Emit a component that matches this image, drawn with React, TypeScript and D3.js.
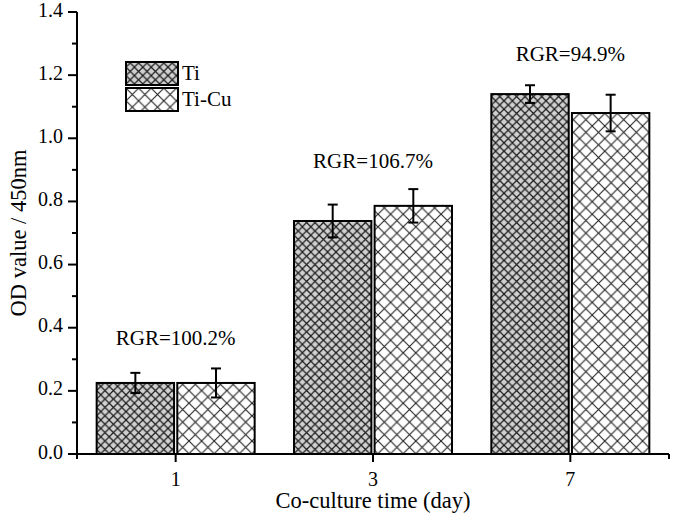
import React from "react";
import * as d3 from "d3";

const categories = ["1", "3", "7"];
const series = ["Ti", "Ti-Cu"];
const tiValues = [0.225, 0.738, 1.14];
const tiErrors = [0.032, 0.052, 0.028];
const tiCuValues = [0.225, 0.786, 1.08];
const tiCuErrors = [0.046, 0.053, 0.058];
const rgrLabels = ["RGR=100.2%", "RGR=106.7%", "RGR=94.9%"];
const rgrValues = [0.36, 0.92, 1.26];
const yTicks = [0, 0.2, 0.4, 0.6, 0.8, 1.0, 1.2, 1.4];
const yMinor = [0.1, 0.3, 0.5, 0.7, 0.9, 1.1, 1.3];

const W = 675;
const H = 524;
const left = 77;
const right = 669;
const top = 12;
const bottom = 454;
const font = "'Liberation Serif', 'Times New Roman', serif";

export default function App() {
  const x = d3.scaleBand<string>().domain(categories).range([left, right]);
  const xi = d3.scaleBand<string>().domain(series).range([0, 158]).paddingInner(0.04);
  const y = d3.scaleLinear().domain([0, 1.4]).range([bottom, top]);
  const groupPad = (x.bandwidth() - 158) / 2;
  const data = [
    { s: "Ti", vals: tiValues, errs: tiErrors, fill: "url(#hatchTi)" },
    { s: "Ti-Cu", vals: tiCuValues, errs: tiCuErrors, fill: "url(#hatchTiCu)" },
  ];
  return (
    <svg
      width={W}
      height={H}
      style={{ position: "absolute", left: 0, top: 0, background: "#fff" }}
      fontFamily={font}
    >
      <defs>
        <pattern id="hatchTi" patternUnits="userSpaceOnUse" width={8.4} height={8.4}>
          <rect width={8.4} height={8.4} fill="#d0d0d0" />
          <path d="M0,0L8.4,8.4M8.4,0L0,8.4" stroke="#1a1a1a" strokeWidth={1.2} />
        </pattern>
        <pattern id="hatchTiCu" patternUnits="userSpaceOnUse" width={12.6} height={12.6}>
          <rect width={12.6} height={12.6} fill="#fff" />
          <path d="M0,0L12.6,12.6M12.6,0L0,12.6" stroke="#222" strokeWidth={1.1} />
        </pattern>
      </defs>
      {categories.map((c, i) => (
        <g key={c}>
          {data.map((d) => {
            const bx = (x(c) as number) + groupPad + (xi(d.s) as number);
            const bw = xi.bandwidth();
            const cx = bx + bw / 2;
            const v = d.vals[i];
            const e = d.errs[i];
            return (
              <g key={d.s}>
                <rect
                  x={bx}
                  y={y(v)}
                  width={bw}
                  height={bottom - y(v)}
                  fill={d.fill}
                  stroke="#000"
                  strokeWidth={2}
                />
                <line x1={cx} x2={cx} y1={y(v + e)} y2={y(v - e)} stroke="#000" strokeWidth={2} />
                <line x1={cx - 5} x2={cx + 5} y1={y(v + e)} y2={y(v + e)} stroke="#000" strokeWidth={2} />
                <line x1={cx - 5} x2={cx + 5} y1={y(v - e)} y2={y(v - e)} stroke="#000" strokeWidth={2} />
              </g>
            );
          })}
          <text
            x={(x(c) as number) + x.bandwidth() / 2}
            y={y(rgrValues[i])}
            textAnchor="middle"
            fontSize={21}
            dominantBaseline="middle"
          >
            {rgrLabels[i]}
          </text>
        </g>
      ))}
      {/* axes */}
      <line x1={left} x2={left} y1={top} y2={bottom + 1} stroke="#000" strokeWidth={2} />
      <line x1={left - 1} x2={right} y1={bottom} y2={bottom} stroke="#000" strokeWidth={2} />
      {yTicks.map((t) => (
        <g key={t}>
          <line x1={left - 9} x2={left} y1={y(t)} y2={y(t)} stroke="#000" strokeWidth={2} />
          <text x={left - 14} y={y(t)} textAnchor="end" dominantBaseline="middle" fontSize={20}>
            {d3.format(".1f")(t)}
          </text>
        </g>
      ))}
      {yMinor.map((t) => (
        <line key={t} x1={left - 5} x2={left} y1={y(t)} y2={y(t)} stroke="#000" strokeWidth={2} />
      ))}
      {[left, right].map((px) => (
        <line key={px} x1={px} x2={px} y1={bottom} y2={bottom + 5} stroke="#000" strokeWidth={2} />
      ))}
      {categories.map((c) => {
        const cx = (x(c) as number) + x.bandwidth() / 2;
        return (
          <g key={c}>
            <line x1={cx} x2={cx} y1={bottom} y2={bottom + 8} stroke="#000" strokeWidth={2} />
            <text x={cx} y={bottom + 27} textAnchor="middle" dominantBaseline="middle" fontSize={20}>
              {c}
            </text>
          </g>
        );
      })}
      <text x={(left + right) / 2} y={503} textAnchor="middle" dominantBaseline="middle" fontSize={22.5}>
        Co-culture time (day)
      </text>
      <text
        transform={`translate(21,${(top + bottom) / 2}) rotate(-90)`}
        textAnchor="middle"
        dominantBaseline="middle"
        fontSize={22.5}
      >
        OD value / 450nm
      </text>
      {/* legend */}
      {data.map((d, i) => (
        <g key={d.s}>
          <rect x={126} y={62 + i * 26} width={52} height={23} fill={d.fill} stroke="#000" strokeWidth={2} />
          <text x={182} y={75 + i * 26} dominantBaseline="middle" fontSize={21}>
            {d.s}
          </text>
        </g>
      ))}
    </svg>
  );
}
